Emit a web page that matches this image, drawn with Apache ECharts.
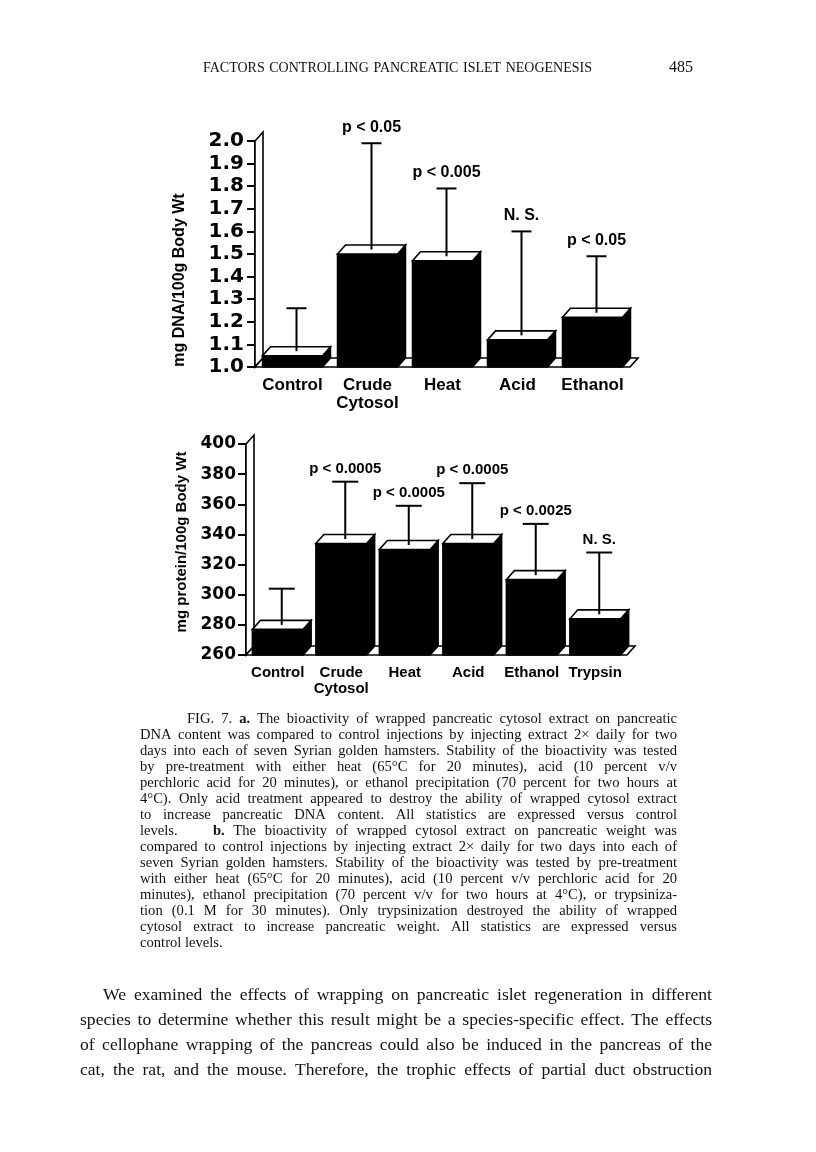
<!DOCTYPE html>
<html>
<head>
<meta charset="utf-8">
<script src="https://cdn.jsdelivr.net/npm/echarts@6/dist/echarts.min.js"></script>
<style>
  html, body { margin: 0; padding: 0; background: #fff; }
  #page { width: 816px; height: 1152px; }
</style>
</head>
<body>
<div id="page"></div>
<script>
// fig 7a - pancreatic DNA content
var dnaCategories = ['Control', 'Crude\nCytosol', 'Heat', 'Acid', 'Ethanol']
var dnaMeans = [1.05, 1.5, 1.47, 1.12, 1.22]
var dnaUpper = [1.26, 1.99, 1.79, 1.6, 1.49]
var dnaSig = ['', 'p < 0.05', 'p < 0.005', 'N. S.', 'p < 0.05']
var dnaAxis = { min: 1.0, max: 2.0, step: 0.1 }

// fig 7b - pancreatic weight
var wtCategories = ['Control', 'Crude\nCytosol', 'Heat', 'Acid', 'Ethanol', 'Trypsin']
var wtMeans = [277, 334, 330, 334, 310, 284]
var wtUpper = [304, 375, 359, 374, 347, 328]
var wtSig = ['', 'p < 0.0005', 'p < 0.0005', 'p < 0.0005', 'p < 0.0025', 'N. S.']
var wtAxis = { min: 260, max: 400, step: 20 }

var headerText = 'FACTORS CONTROLLING PANCREATIC ISLET NEOGENESIS'
var pageNumber = '485'
var captionLines = [
  'FIG. 7. *a. The bioactivity of wrapped pancreatic cytosol extract on pancreatic',
  'DNA content was compared to control injections by injecting extract 2× daily for two',
  'days into each of seven Syrian golden hamsters. Stability of the bioactivity was tested',
  'by pre-treatment with either heat (65°C for 20 minutes), acid (10 percent v/v',
  'perchloric acid for 20 minutes), or ethanol precipitation (70 percent for two hours at',
  '4°C). Only acid treatment appeared to destroy the ability of wrapped cytosol extract',
  'to increase pancreatic DNA content. All statistics are expressed versus control',
  '*b. The bioactivity of wrapped cytosol extract on pancreatic weight was',
  'compared to control injections by injecting extract 2× daily for two days into each of',
  'seven Syrian golden hamsters. Stability of the bioactivity was tested by pre-treatment',
  'with either heat (65°C for 20 minutes), acid (10 percent v/v perchloric acid for 20',
  'minutes), ethanol precipitation (70 percent v/v for two hours at 4°C), or trypsiniza-',
  'tion (0.1 M for 30 minutes). Only trypsinization destroyed the ability of wrapped',
  'cytosol extract to increase pancreatic weight. All statistics are expressed versus',
  'control levels.'
]
var bodyLines = [
  'We examined the effects of wrapping on pancreatic islet regeneration in different',
  'species to determine whether this result might be a species-specific effect. The effects',
  'of cellophane wrapping of the pancreas could also be induced in the pancreas of the',
  'cat, the rat, and the mouse. Therefore, the trophic effects of partial duct obstruction'
]

var DX = 8
var DY = 9
var SERIF = '"Liberation Serif", "Times New Roman", serif'
var SANS = '"Liberation Sans", Arial, sans-serif'
var CAP = 14.6
var BODY = 17.6

var ctx = document.createElement('canvas').getContext('2d')

// one justified line of text; words starting with * are bold
function textLine(str, x, y, size, width) {
  var words = str.split(' ')
  var used = 0
  var parts = words.map(function (w) {
    var bold = w.charAt(0) === '*'
    var t = bold ? w.slice(1) : w
    ctx.font = (bold ? 'bold ' : '') + size + 'px ' + SERIF
    used += ctx.measureText(t).width
    return bold ? '{b|' + t + '}' : '{n|' + t + '}'
  })
  var gap = size * 0.25
  if (width && words.length > 1) {
    gap = Math.max(1.5, (width - used) / (words.length - 1))
  }
  return {
    type: 'text',
    x: x,
    y: y,
    style: {
      text: parts.join('{s| }'),
      verticalAlign: 'middle',
      fill: '#111',
      fontSize: size,
      fontFamily: SERIF,
      rich: {
        n: { fontSize: size, fontFamily: SERIF, color: '#111' },
        b: { fontSize: size, fontFamily: SERIF, fontWeight: 'bold', color: '#111' },
        s: { fontSize: size, fontFamily: SERIF, width: gap }
      }
    }
  }
}

function renderFrame(params, api) {
  var cs = params.coordSys
  var l = cs.x, r = cs.x + cs.width, t = cs.y, b = cs.y + cs.height
  var st = { fill: '#fff', stroke: '#000', lineWidth: 1.6 }
  return {
    type: 'group',
    children: [
      { type: 'polygon', shape: { points: [[l, b], [l, t], [l + DX, t - DY], [l + DX, b - DY]] }, style: st },
      { type: 'polygon', shape: { points: [[l, b], [r, b], [r + DX, b - DY], [l + DX, b - DY]] }, style: st }
    ]
  }
}

function makeBar(base) {
  return function (params, api) {
    var top = api.coord([api.value(0), api.value(1)])
    var bot = api.coord([api.value(0), base])
    var w = api.size([1, 0])[0] * 0.8
    var x0 = top[0] - w / 2, x1 = top[0] + w / 2
    return {
      type: 'group',
      children: [
        {
          type: 'polygon',
          shape: { points: [[x0, bot[1]], [x0, top[1]], [x1, top[1]], [x1 + DX, top[1] - DY], [x1 + DX, bot[1] - DY], [x1, bot[1]]] },
          style: { fill: '#000', stroke: '#000', lineWidth: 1.5 }
        },
        {
          type: 'polygon',
          shape: { points: [[x0, top[1]], [x1, top[1]], [x1 + DX, top[1] - DY], [x0 + DX, top[1] - DY]] },
          style: { fill: '#fff', stroke: '#000', lineWidth: 1.6 }
        }
      ]
    }
  }
}

function makeError(sig, capW, fontSize, lift) {
  return function (params, api) {
    var mean = api.coord([api.value(0), api.value(1)])
    var hi = api.coord([api.value(0), api.value(2)])
    var x = mean[0] + DX / 2
    var st = { stroke: '#000', lineWidth: 2 }
    return {
      type: 'group',
      children: [
        { type: 'line', shape: { x1: x, y1: mean[1] - DY / 2, x2: x, y2: hi[1] }, style: st },
        { type: 'line', shape: { x1: x - capW / 2, y1: hi[1], x2: x + capW / 2, y2: hi[1] }, style: st },
        {
          type: 'text',
          x: x,
          y: hi[1] - lift,
          style: {
            text: sig[params.dataIndex] || '',
            align: 'center',
            verticalAlign: 'middle',
            fill: '#000',
            fontSize: fontSize,
            fontWeight: 'bold',
            fontFamily: SANS
          }
        }
      ]
    }
  }
}

function errData(means, upper) {
  return means.map(function (m, i) { return [i, m, upper[i]] })
}

function yAxisOf(idx, ax, fontSize, margin, digits) {
  return {
    type: 'value',
    gridIndex: idx,
    min: ax.min,
    max: ax.max,
    interval: ax.step,
    axisLine: { show: true, lineStyle: { color: '#000', width: 2 } },
    axisTick: { show: true, length: 8, lineStyle: { color: '#000', width: 2 } },
    splitLine: { show: false },
    axisLabel: {
      margin: margin,
      color: '#000',
      fontSize: fontSize,
      fontWeight: 'bold',
      fontFamily: '"DejaVu Sans", sans-serif',
      formatter: function (v) { return v.toFixed(digits) }
    }
  }
}

function xAxisOf(idx, cats, fontSize, lh, margin) {
  return {
    type: 'category',
    gridIndex: idx,
    data: cats,
    axisLine: { show: false },
    axisTick: { show: false },
    axisLabel: {
      interval: 0,
      margin: margin,
      color: '#000',
      fontSize: fontSize,
      lineHeight: lh,
      fontWeight: 'bold',
      fontFamily: SANS
    }
  }
}

var graphics = [
  textLine(headerText, 203, 68, 14, 389),
  {
    type: 'text', x: 693, y: 68,
    style: { text: pageNumber, align: 'right', verticalAlign: 'middle', fill: '#111', fontSize: 16, fontFamily: SERIF }
  },
  {
    type: 'text', x: 180, y: 280, rotation: Math.PI / 2,
    style: { text: 'mg DNA/100g Body Wt', align: 'center', verticalAlign: 'middle', fill: '#000', fontSize: 16, fontWeight: 'bold', fontFamily: SANS }
  },
  {
    type: 'text', x: 182, y: 542, rotation: Math.PI / 2,
    style: { text: 'mg protein/100g Body Wt', align: 'center', verticalAlign: 'middle', fill: '#000', fontSize: 15, fontWeight: 'bold', fontFamily: SANS }
  }
]

// caption: justified to 140..677, first line indented, "levels." split off before b.
captionLines.forEach(function (line, i) {
  var y = 719 + i * 16
  if (i === 0) {
    graphics.push(textLine(line, 187, y, CAP, 677 - 187))
  } else if (i === 7) {
    graphics.push(textLine('levels.', 140, y, CAP))
    graphics.push(textLine(line, 213, y, CAP, 677 - 213))
  } else if (i === captionLines.length - 1) {
    graphics.push(textLine(line, 140, y, CAP))
  } else {
    graphics.push(textLine(line, 140, y, CAP, 677 - 140))
  }
})

bodyLines.forEach(function (line, i) {
  var x = i === 0 ? 103 : 80
  graphics.push(textLine(line, x, 995 + i * 25, BODY, 712 - x))
})

var chart = echarts.init(document.getElementById('page'))

chart.setOption({
  backgroundColor: '#fff',
  animation: false,
  grid: [
    { left: 255, top: 141, width: 375, height: 226 },
    { left: 246, top: 444, width: 381, height: 211 }
  ],
  xAxis: [
    xAxisOf(0, dnaCategories, 17, 18, 9),
    xAxisOf(1, wtCategories, 15, 16, 10)
  ],
  yAxis: [
    yAxisOf(0, dnaAxis, 20, 11, 1),
    yAxisOf(1, wtAxis, 17, 10, 0)
  ],
  graphic: graphics,
  series: [
    {
      type: 'custom', xAxisIndex: 0, yAxisIndex: 0, z: 1,
      renderItem: renderFrame, data: [[0, dnaAxis.min]]
    },
    {
      type: 'custom', xAxisIndex: 0, yAxisIndex: 0, z: 3,
      renderItem: makeBar(dnaAxis.min),
      data: dnaMeans.map(function (v, i) { return [i, v] })
    },
    {
      type: 'custom', xAxisIndex: 0, yAxisIndex: 0, z: 4,
      renderItem: makeError(dnaSig, 20, 16, 16),
      data: errData(dnaMeans, dnaUpper)
    },
    {
      type: 'custom', xAxisIndex: 1, yAxisIndex: 1, z: 1,
      renderItem: renderFrame, data: [[0, wtAxis.min]]
    },
    {
      type: 'custom', xAxisIndex: 1, yAxisIndex: 1, z: 3,
      renderItem: makeBar(wtAxis.min),
      data: wtMeans.map(function (v, i) { return [i, v] })
    },
    {
      type: 'custom', xAxisIndex: 1, yAxisIndex: 1, z: 4,
      renderItem: makeError(wtSig, 26, 15, 13),
      data: errData(wtMeans, wtUpper)
    }
  ]
})
</script>
</body>
</html>
